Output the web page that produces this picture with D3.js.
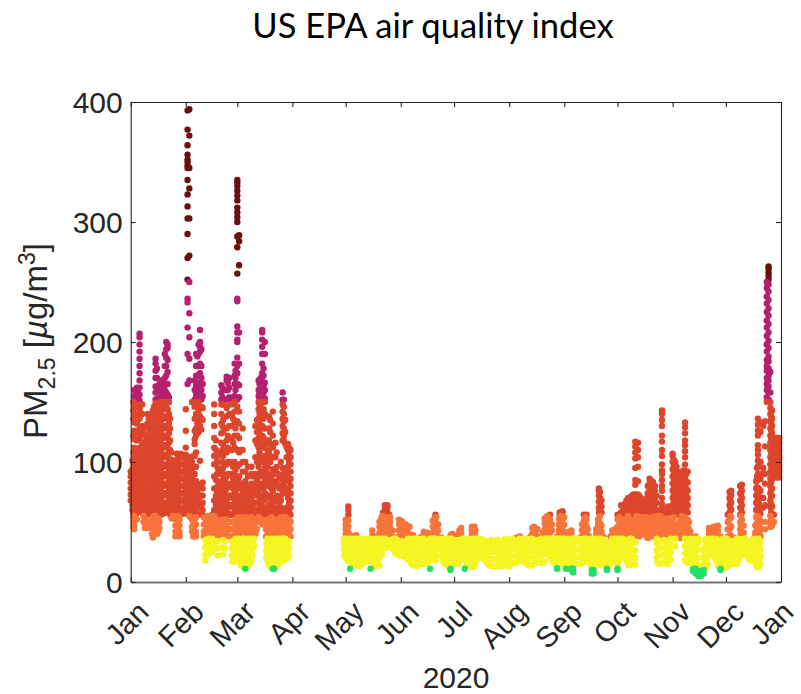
<!DOCTYPE html>
<html><head><meta charset="utf-8">
<style>html,body{margin:0;padding:0;background:#fff}svg{display:block}text{fill:#262626}</style>
<script src="https://cdn.jsdelivr.net/npm/d3@7"></script></head>
<body><svg id="c" width="801" height="694"></svg>
<script>
const monthLabels=["Jan","Feb","Mar","Apr","May","Jun","Jul","Aug","Sep","Oct","Nov","Dec","Jan"];
const yTicks=[0,100,200,300,400];
const bandLimits=[12,36.5,55.5,150.5,250.5];
const bandColors=["#22e066","#f5f523","#f7743a","#dd462c","#b5216f","#6b0f0f"];
// each row: day of month, then PM2.5 readings of that day
const pmJan=[
[1,68,73,78,83,88,92],[2,60,64,70,76,82,88,94,101],
[3,44,47,51,55,60,65,71,77,84,90,97,105,112,119,126,133,140,147,155,160],
[4.5,52,58,63,69,75,81,88,96,103,110,118,125,132,139,146,151,157,162],
[6,58,64,70,76,83,90,97,104,112,120,128,136,144,151,156,162,168,174,180,186,192,198,204,207],
[7.5,62,68,74,81,88,95,102,109,116,123,130,140,148],
[9,45,49,53,57,61,68,75,82,90,98,106,114,122,130],
[10.5,45,50,56,62,70,78,86,95,104,113,122,132,140],
[12,60,68,76,84,92,100,108,116,125,135],
[13.5,37,40,44,48,53,58,64,72,80,88,96,104,112,120,128,136,143],
[15,55,62,70,78,86,94,102,110,118,126,134,142,149,152,158,163,170,176,182,186],
[16.5,42,47,53,60,68,76,84,92,100,108,116,124,132,140,148,152,160],
[18,56,62,70,78,86,94,102,110,118,126,134,142,150,155,160,168],
[19.5,57,64,72,80,88,96,104,112,120,128,136,144,150,154,162],
[21,60,66,74,82,90,98,106,114,122,130,138,146,152,158,165,172,180,187,194,200],
[22.5,60,68,76,84,92,100,108,116,124,132,140,150,154],
[24,53,58,64,70,76,82,88,95,102,108],
[25.5,53,58,64,70,76,82,88,94,100],
[27,55,60,66,72,78,84,90,96,102,107],
[28.5,38,42,47,52,57,62,68,74,80,86,92],
[30,57,62,68,74,80,86,92,98,104,106],
[2.5,46,50,54,57,62,68,74,80,86,92,99,108,122,136,143,150],[3.8,56,60,66,72,78,86,92,100],
[5.2,60,66,72,78,85,92,100,108,124,140,148,154,160],[6.8,60,66,72,78,85,92,100],
[8.2,50,55,60,66,72,78,85,93,100,108,116,125],[9.8,47,52,58,64,72,80,88,92,100,110,118],
[11.2,60,66,72,78,84,90,96,102,110,118,128,136],[12.8,60,66,72,78,85,92,98,104,112,120,130,140],[13,40,45,50],
[14.2,40,45,50,55,60,66,74,82,90,98,106,114,122,130,138,146],[15.8,40,46,52,58,65,72,80,88,96,104,112,120,130,138,146,153,162,170,178],
[17.2,45,50,58,66,74,82,90,98,106,114,122,130,138,146,153,165],[18.8,60,66,74,82,90,98,106,114,122,130,138,146,152,158,165],
[20.2,60,66,74,82,90,98,106,114,122,130,138,146,152,160,170,180,190],[21.8,58,64,72,80,88,96,104,112,120,128,136,144,150,156,165,175,185,195,198],
[23.2,56,62,70,78,86,94,102,110,118,128,136],[24.8,55,60,66,72,78,85,92,98],[26.2,38,42,47,52,57,63,70,76,82,88,94,100],
[27.8,40,45,50,55,60,66,72,78,84,90,96,102,106],[29.2,57,62,68,74,80,86,92,98,104,107],[30.8,57,62,68,74,80,86,92,98,104]];
const pmFeb=[
[1,58,64,70,76,82,88,94,100,106,144,126,112],
[2,165,190,212,233,236,252,270,290,303,313,323,335,345,347,350,352,356,364,377,393,60,68,76,84,92,100],
[3,55,62,70,78,86,94,102,168,186,204,224,250,272,303,328,345,372,394],
[4.5,42,46,52,58,64,70,76,84,92,100,150],
[6,38,42,47,52,60,70,80,90,105,115,119,126,136,146,152,160,168],
[7.5,57,66,74,82,124,132,140,148,154,162,172,180,188],
[9,56,63,72,80,101,130,138,146,152,158,166,174,182,192,196,200,210],
[10.5,56,60,66,72,78,83,135,145,155,165],
[12,18,23,29,35,38,43,48,53],
[14,24,30,36,38,43,48],
[16,25,31,36,40,46,52,56],
[17,60,68,78,88,98,105,112,120,130,140,148],
[18,58,64,72,85,110,118,40,46,52],
[19,22,28,34,38,44,50,56,60,68,80,95,105],
[21,60,68,76,84,92,100,108,116,124,132,140,148,152,158,164],
[22,23,29,35,40,46,52,57,65,75,85,95,105,115,125,135,148,152,160],
[24,40,46,52,60,68,78,88,98,108,118,128,138,145,152,160,168,171],
[25.5,57,64,72,80,90,100,110,120,130,140,148,154,162,170],
[27,17,22,28,34,38,44,50,56,64,72,80,90,100,110,120,130,140,148,152],
[28.5,17,22,28,34,38,44,50,58,66,74,82,90,100,112,122,133,142,150,155,165,172,182],
[1.5,57,62,68,74,80,86,92,98,104],[3.7,54,60,66,72,80,88,96,104],[5.2,38,44,50,56,62,68,75,85,96,105],
[6.8,38,42,48,54,84,96,108,122,128,140,150,156,164,172,180,190],[8.2,56,62,70,78,125,134,142,150,156,164,172,180,190,198],
[9.8,56,64,72,80,127,136,146,152,160,170,180,194],[11.2,38,42,48,54],[12.8,22,28,34,38,44,50],[13.5,27,33,38,44,50,55],
[15,27,33,38,44,50,55],[17,38,44,50,55],[18.5,28,34,40,46,52,58,66,76,90,100],[20,38,44,50,56,64,72,80,90],
[21.7,38,44,50,56,64,72,80,90,100,110,130,148,154,162],[23.2,28,34,40,46,52,58,66,74,84],
[24.7,38,44,50,56,62,70,80,90,100,112,122,152,160,166,170],[26.2,38,44,50,56,64,72,82],
[27.7,20,26,32,38,44,50,56,62,70,78,86,96,116,136,152],[29,18,24,30,36,40,46,52,60,68,76,84,94,128,152,160,170,176]];
const pmMar=[
[1,38,43,48,53,58,64,72,80,88,96,110,122,134,146,152,165,174,180,187,200,202,208,213,234,236,257,279,288,300,304,308,312,318,322,326,330,333,335],
[2,17,22,29,35,40,46,52,60,68,78,88,98,108,120,132,142,154,164,182,208,264,284,289],
[4,13,18,24,30,36,40,46,52,58,66,74,82,92,100,110,128],
[5.5,11,15,21,27,33,38,44,50,56,62,68,76,84,92,100],
[7,13,18,24,30,36,40,46,52,58,66,74,80,88,96],
[9,18,24,30,36,42,48,54,60,68,74,82,90,96],
[10.5,30,36,60,66,74,82,90],
[12,44,50,56,60,72,85,100,115,125,135],
[13.5,56,62,70,80,90,100,108,116,124,132,140,148,152,158,165],
[15,48,52,58,64,72,80,88,112,122,130,140,150,155,162,168,174,182,190,196,202,208,210],
[16.5,56,62,68,74,84,95,105,115,128,140,150,153,160,166,190,200],
[18,18,24,30,36,40,46,52,60,72,86,96,110,118],
[19.5,14,20,26,32,38,44,50,56,64,72,80,90,100,105,115,125,135],
[21,11,17,23,29,35,40,46,52,58,66,76,84,94,104,112,122,132,142],
[22.5,12,18,24,30,36,40,46,52,58,70,82,92,104,116],
[24,15,21,27,33,36,42,48,60,68,80,90],
[25.5,17,23,29,35,38,44,50,56,60,68,100],
[26.5,20,26,32,36,40,46,52,75,85,95,118,124,130,136,142,148,152,158],
[28,19,25,31,36,42,48,54,60,76,88,94,115,125,135],
[29.5,20,26,32,38,44,50,56,62,70,78,88,96,110,115],
[31,38,44,50,56,62,68,74,80,86,92,98,104,110],
[1.7,18,24,30,36,42,48,54,60,70,84],[3,14,20,26,32,38,44,50,56,62,70,80,110],
[4.7,12,18,24,30,36,42,48,54,60,70,78],[6.2,12,17,23,29,35,42,48,54,60,68,76],[8,15,21,27,33,38,44,50,56,62,70,78],
[9.7,22,28,34,38,44,50,56,64,72,80,88],[11.2,40,45,52,58,66,78,90,104,118,130],[13,50,54,58,66,76,88,96,104,112,120,128,136,144,150,155,160,168],
[14.2,52,56,62,70,82,92,104,114,122,130,138,146,152,158,164,170],[15.8,56,60,70,78,90,100,112,120,128,136,144,152,158,164,172,178],
[17.2,20,26,32,38,44,50,56,60,70,80,92,104],[18.8,14,20,26,32,38,44,50,56,64,72,82,90,100,108,118,128,138],
[20.2,12,18,24,30,36,42,48,54,60,68,78,88],[21.7,11,15,21,27,33,38,44,50,56,62,70,80,90],
[23.2,13,19,25,31,38,44,50,56,62,72,84,96,108],[24.7,16,22,28,34,40,46,52,58,66,78,88],[25.7,19,25,31,36,42,48,54,62,72,80],
[27.2,18,24,30,36,42,48,54,60,80,90,118,122,128,134,140,146,152],[28.8,20,26,32,38,44,50,56,62,74,84,94,104,112],
[30.2,22,28,34,40,46,52,58,66,74,84,92,100,106,112]];
const pmApr=[[30,22,27,32,36]];
const pmMay=[
[1,20,24,29,33,36,40,44,48,52],[2.5,17,22,27,32,36,41,46,51,56,60,63],[3.5,11,19,25,31,36,39],
[5,15,20,26,31,36,38],[7,14,19,25,30,36,39],[9,13,18,24,30,36],[11,16,22,28,33,36],[13,19,25,31,36],
[15,11,19,25,31,36],[16,17,23,29,35,39,43],[18,13,19,25,31,36,38],[20,14,20,27,33,36,41,46,50],
[21.5,23,28,32,36,40,45,50,55],[23,28,32,36,41,46,51,56,60,64],[24.5,29,35,39,44,49,54,58,62,64],
[26,30,35,40,45,50,54],[27.5,28,34,38,43],[29,24,30,36],[31,22,28,34,38,43,48,52],
[2,18,22,27,32,34],[4,16,22,28,33],[6,16,22,28,33],[8,15,21,27,33],[10,15,21,27,33],[12,18,24,30,34],[14,17,23,29,34],[17,15,21,27,33],
[19,16,22,28,33],[21,28,34,38,43,48,53],[22,30,34,38,43,48,53,58],[24,33,38,43,48,53,57,61],[25.5,30,33,38,42,47,52,56],[28,27,32,36],[30,24,30,35]];
const pmJun=[
[2,22,28,34,39,45,50],[4,20,26,32,37,42,47,48],[6,18,24,30,36,40,46],[8,14,20,26,32,36,39],[10,13,19,25,31,36],
[12,15,21,27,33,37],[14,15,20,26,32,36,40,42],[16,16,22,28,34,38,41],[17.5,11,19,25,31,36],[19,20,26,32,36,41,46,51],
[20.5,18,24,30,36,40,45,50,56],[22,22,28,34,38,43,48],[24,21,27,33,37],[26,15,21,27,33,36],[28,14,20,26,32,36],
[29,10,11,19,25,31,36,39],[30,16,22,28,34,39,40],
[1,22,27,33,37,42,47,51],[3,21,27,33,37,41,46],[5,19,25,31,36,41,46],[7,15,21,27,33,37],[9,14,20,26,32,36],[11,14,20,26,32,35],
[13,15,21,27,33,36,38],[15,16,22,28,34,38],[18,18,24,30,34],[20,19,25,31,36,42,48,53],[21,21,27,33,37,42,47,54],[23,22,28,34,36],
[25,17,23,29,35],[27,14,20,26,32,35],[29.5,14,20,26,32,36]];
const pmJul=[
[2,17,23,29,35,38],[3.5,15,21,27,33,37,40],[5,20,26,32,37,41,45],[7,11,19,25,31,36],[9,17,23,29,35],
[11,12.5,18,24,30,36,39,43,46],[12.5,13,19,25,31,36,41,46],[14,19,25,31,36],[16,20,26,32,36],[18,22,28,34],
[20,15,21,27,33],[22,13,19,25,31,35],[24,13,19,25,30,34],[26,14,20,26,32,35],[28,13,19,25,31],[30,15,21,27,33,36],
[1,17,23,29,34,37],[3,15,21,27,33],[4,18,24,30,35,39,43],[6,19,25,31,36],[8,14,20,26,32,35],[10,17,23,29,35],[13,16,22,28,34,38,43],
[15,21,27,33],[17,20,26,32,35],[19,17,23,29,34],[21,14,20,26,32],[23,13,19,25,31,34],[25,13,19,25,31,35],[27,14,20,26,32],[29,14,20,26,32,34],[31,14,20,26,32,35]];
const pmAug=[
[1,13,19,25,31,35],[3,16,22,28,34,36],[5,16,22,28,34,37],[7,19,25,31,36,38],[9,17,23,29,35],[11,15,21,27,33,36],
[13,14,20,26,32,36,38],[15,15,21,27,33,38,42,46],[17,17,23,29,35,38,44],[19,16,22,28,34,36],
[21,17,23,29,36,39,44,49,53],[22.5,26,32,36,40,45,50,55],[24,21,27,33,36,41,46,52,56],[26,17,23,29,35],
[28,11,11.5,19,25,31,36,38],[29.5,19,25,31,36,41,46,51,56,58],[31,15,21,27,33,36,41,46,52,58,59],
[2,15,21,27,33,35],[4,16,22,28,34],[6,18,24,30,35],[8,18,24,30,34],[10,16,22,28,34],[12,14,20,26,32,35],[14,14,20,26,32,36,40,45],
[16,16,22,28,34,39,43],[18,17,23,29,34],[20,17,23,29,34,37,41],[21.5,24,30,34,38,43,48,53],[23,24,30,34,38,44,49,54],[25,18,24,30,36,43,48],
[27,15,21,27,33,36],[29,20,26,32,36,43,48,53],[30,17,23,29,35,40,45,50,55]];
const pmSep=[
[2,11,17,23,29,35,38],[4,17,23,29,35,38,42],[5,10,11,19,25,31,36,40,43],[6,8,11,20,26,32,36],[8,15,21,27,33,36],
[10,15,21,27,33,37],[12,17,23,29,36,41,46,51,56],[13.5,19,25,31,36,41,47,52,56],[15,17,23,29,35,38],
[16.5,7,10,18,24,30,36],[17.5,7,10,13,20,26,32,36],[19,18,24,30,36,40,44],
[20.5,15,21,27,33,36,41,46,50,53,58,62,67,72,76,78],[22,14,20,26,32,36,42,47,58,63,68],[24,17,23,29,35],
[25,11,10],[26,14,20,26],[28,17,23,29,36,39,43],[29.5,19,25,31,36,40,44],
[1,13,19,25,31,36,42,48,54],[3,14,20,26,32,36,40],[7,15,21,27,33],[9,15,21,27,33,36],[11,16,22,28,34,38,43,48],[12.8,18,24,30,36,43,49,54],
[14.2,17,23,29,35,39,44],[16,14,20,26,32,36],[18,16,22,28,34],[20,16,22,28,34,38,43,48,52],[21.2,14,20,26,32,38,44,49,55,60,65,70,75],
[23,15,21,27,33,38],[25,14,20,26,32],[27,15,21,27,33,38],[28.7,18,24,30,34,38,42],[30,18,24,30,36,42]];
const pmOct=[
[1,10,11,15,21,27,33,36,40,46,52,56],[3,20,26,32,36,41,46,52,58,64],[5,20,26,32,38,44,50,56,60,65],
[7,14,20,26,32,37,43,49,55,60,66,70],[9,15,21,27,33,36,42,48,56,62,68,72],
[11,14.5,20,26,33,40,46,52,57,63,70,73,81,85,95,103,108,113,117],[12.5,40,46,52,57,63,69,73,84,96,104,110,116],
[14,42,48,54,58,64,70],[16,42,48,54,58,64],[17.5,38,43,48,54,58,64,70],[19,40,46,52,58,64,70,76,82,86],
[20.5,42,48,54,58,64,70,76,84],[22,38,44,50,58,64,70,76,80],[23.5,16,21,27,33,38,44,50],[25,15,22,28,34,38,44,50,55],
[26,38,44,50,58,62,65,70,76,80,85,90,93,98,105,110,117,122,130,135,140,143],[28,16,22,28,34,38,44,50,56],
[29.5,15,21,27,33,38,44,50,57,63],[31,19,25,31,36,40,46,52],
[2,18,24,30,34,38,43,48,54],[4,20,26,32,36,40,46,52,57,62],[6,17,23,29,35,41,47,53,58,63,68],[8,14,20,26,32,36,40,46,52,58,64,69],
[10,15,21,27,33,38,44,50,57,64,70,73],[11.7,40,44,50,55,60,66,72],[13.2,38,44,50,56,60,66,72],[15,40,46,52,57,62,68],[18,36.6,41,46,52,57,62,68,74,80],
[20,38,44,50,56,62,68,74,80],[21,40,46,52,60,66,72,78,83],[23,20,26,32,36,41,47,55,60,66,72],[24,16,22,28,34,40,46,52],[27,17,23,29,35,41,47,53],
[29,16,22,28,34,41,47,53,60],[30,17,23,29,35,38,43,49]];
const pmNov=[
[1,40,46,52,58,64,70,76,82,88,94,100,105,107],[2.5,30,36,40,58,62,68,75,82,88,94,100],[4,40,46,60,66,72,78,85,88,92],
[5.5,36.6,42,48,52,58,64,70,76,84],[7,40,46,52,58,64,70,76,82,88,93],
[8,18,24,30,36,42,48,54,58,64,70,76,82,88,93,98,104,109,114,118,124,129,133],[9.5,16,22,28,34,40,46,52,58,64,70,76,83,92],
[11,19,25,31,36,38,42],[12.5,9,10,11,17,23,29,35],[14,7,10,11,20,26,32,36,38],[15.5,5,8,14,20,27,33,36],[17,5,9,13],
[18.5,7,10,14,20,26],[20,12,18,24,30,36],[21.5,22,28,34,40,43,45],[23,26,32,38,43],[25,20,26,32,38,43,46],
[26.5,14,20,26,32,38,43,47],[28,11,10,16,22,28,34,38],[30,13,19,25,31,36],
[1.7,38,43,48,54,60,66,72,78,84,90,96,102],[3.2,37,42,60,66,72,78,84,90,96],[4.7,38,44,50,56,62,68,74,80,87],[6.2,38,44,50,55,60,66,72,78,84,90],
[7.5,38,44,50,60,66,72,78,84,90],[8.7,17,23,29,35,40,46,52,60,66,72,78,84,90],[10.2,17,23,29,35,38,44,50],[11.7,16,22,28,34],[13.2,16,22,28,34],
[14.7,15,21,27,33],[19,17,23,29,35],[20.7,15,21,27,33],[22.2,24,30,36,41,44],[24,24,30,36,41,46],[25.7,18,24,30,36,41,46],[27.2,13,19,25,31,37],[29,14,20,26,32,36]];
const pmDec=[
[1,12,18,24,30,36],[2,14,20,26,32,38,44,50,56],[3,14,20,26,32,38,44,52,58,64,70,75],[4,16,22,28,34,38,46,54,60,66,72,76],
[5.5,15,21,27,33,37],[7,15,21,27,33,36],[9,21,27,33,38,44,50,56,62,68,74,80],[10,23,29,35,40,46,52,58,64,70,76,81],
[12,24,30,36],[14,19,25,31],[15.5,18,24,30,35],[17,21,27,33,37],[18,14,20,26,32,37,42,48,54,60,66,72,78,84],
[19,12.5,17,22,28,34,40,46,52,58,64,70,76,85,90,96,101,106,110,114,122,126,131,136],
[20.5,15,21,27,33,38,44,50,57,62,76,86,90,100,125,133],[22,62,70,90,95,130],[23,44,50,64,82,90,113,134],
[24,150,154,160,165,170,176,180,185,192,198,205,212,218,225,232,238,245,250],
[25,152,158,163,168,172,178,184,188,195,201,208,215,222,228,235,242,248,252,255,258,261,263],
[26,46,50,55,62,68,74,80,86,92,98,104,110,116,122,128,134,140,145,150,158,175],
[27,47,50,63,72,78,86,94,100,106,112,118,124,130,136,143],
[28,50,56,88,92,98,104,110,116,120],[29.5,87,90,96,102,108,114,120],[31,87,92,98,104,110,116,120],
[1.5,13,19,25,31,36],[3.5,15,21,27,33,39,47,55,62,68,74],[5,16,22,28,34],[6,15,21,27,33],[8,18,24,30,36],[9.5,22,28,34,41,47,55,61,67,73,79],
[11,24,30,36,41,47],[13,22,28,34],[15,18,24,30,34],[16,19,25,31,35],[17.5,18,24,30,36,41,47],[18.5,13,19,25,31,37,43,49,55,61,67,73,79,88,95],
[19.5,12.5,18,24,30,36,42,48,54,60,66,72,78],[20,15,22,28,34,40,46,52],[26.5,46,49,53,58,65,71,77,83,90,96,102,108,114,120,126,132,138],
[28.5,88,93,99,105,111,117],[30,88,94,100,106,112,118],[30.7,90,96,102,108,114]];

const months=[pmJan,pmFeb,pmMar,pmApr,pmMay,pmJun,pmJul,pmAug,pmSep,pmOct,pmNov,pmDec];
const margin={left:130.7,right:781,top:102,bottom:582};
const x=d3.scaleTime().domain([new Date(2020,0,1),new Date(2021,0,1)]).range([margin.left,margin.right]);
const y=d3.scaleLinear().domain([0,400]).range([margin.bottom,margin.top]);
const color=d3.scaleThreshold().domain(bandLimits).range(bandColors);
const points=months.flatMap((rows,m)=>rows.flatMap(([day,...vals])=>vals.map(v=>({
  t:new Date(2020,m,Math.floor(day),(day%1)*24),v}))));
points.sort((a,b)=>b.v-a.v);
const svg=d3.select("#c");
const ink="#262626",tickFont="'Liberation Sans',Arial,sans-serif";

svg.append("text").attr("x",433).attr("y",38).attr("text-anchor","middle")
  .style("font-family","Lato,sans-serif").style("font-size","34.5px").style("fill","#000").text("US EPA air quality index");

svg.append("g").selectAll("circle").data(points).join("circle")
  .attr("cx",d=>x(d.t)).attr("cy",d=>y(d.v)).attr("r",3.2).attr("fill",d=>color(d.v));

const monthTicks=d3.timeMonth.range(new Date(2020,0,1),new Date(2021,0,2));
const axB=svg.append("g").attr("transform",`translate(0,${margin.bottom})`)
  .call(d3.axisBottom(x).tickValues(monthTicks).tickSizeInner(-5).tickSizeOuter(0).tickFormat(""));
const axT=svg.append("g").attr("transform",`translate(0,${margin.top})`)
  .call(d3.axisTop(x).tickValues(monthTicks).tickSizeInner(-5).tickSizeOuter(0).tickFormat(""));
const axL=svg.append("g").attr("transform",`translate(${margin.left},0)`)
  .call(d3.axisLeft(y).tickValues(yTicks).tickSizeInner(-5).tickSizeOuter(0).tickPadding(8));
const axR=svg.append("g").attr("transform",`translate(${margin.right},0)`)
  .call(d3.axisRight(y).tickValues(yTicks).tickSizeInner(-5).tickSizeOuter(0).tickFormat(""));
[axB,axT,axL,axR].forEach(g=>{g.selectAll("path,line").attr("stroke",ink).attr("stroke-width",1.1);});
axB.select("path").attr("stroke","#777").attr("stroke-width",2);
axL.selectAll("text").style("font-family",tickFont).style("font-size","30px").style("fill",ink);
axL.selectAll("text").attr("dy","0.36em");

svg.append("g").selectAll("text").data(monthTicks).join("text")
  .attr("transform",(d,i)=>`translate(${x(d)+(i===12?-0.5:5)},${margin.bottom+17}) rotate(-45)`)
  .attr("text-anchor","end").attr("dy","0.72em")
  .style("font-family",tickFont).style("font-size","29px").text((d,i)=>monthLabels[i]);

svg.append("text").attr("x",456).attr("y",687.5).attr("text-anchor","middle")
  .style("font-family",tickFont).style("font-size","30px").text("2020");

const yl=svg.append("text").attr("transform","translate(47,341) rotate(-90)").attr("text-anchor","middle")
  .style("font-family",tickFont).style("font-size","33px");
yl.append("tspan").text("PM");
yl.append("tspan").attr("dy",8).style("font-size","23px").text("2.5");
yl.append("tspan").attr("dy",-8).text(" [");
yl.append("tspan").style("font-style","italic").text("µ");
yl.append("tspan").text("g/m");
yl.append("tspan").attr("dy",-12).style("font-size","23px").text("3");
yl.append("tspan").attr("dy",12).text("]");
</script></body></html>
